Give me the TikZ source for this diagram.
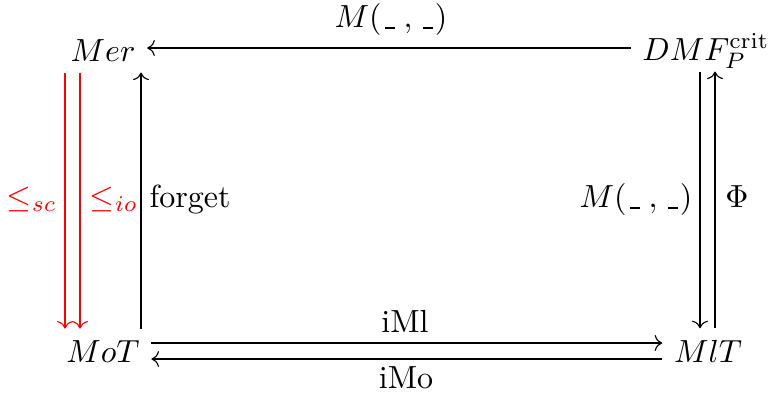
\documentclass[tikz,border=0pt]{standalone}
\usetikzlibrary{arrows.meta}
% a short blank slot, drawn as a rule on the baseline
\newcommand{\slotmark}{\rule[-0.6pt]{3.1pt}{0.6pt}}
\newcommand{\pairmap}{M(\kern1pt\slotmark\;,\,\slotmark\kern0.6pt)}
\begin{document}
\begin{tikzpicture}[x=0.3125pt,y=-0.3125pt,
  obj/.style={inner xsep=3.5pt, inner ysep=3.4pt, anchor=base, text depth=0pt},
  lbl/.style={inner sep=0pt, anchor=base},
  map/.style={-{To}, line width=0.35pt}]
\useasboundingbox (0,0) rectangle (768,396);

% objects
\node[obj] (Mer) at (103,61) {$Mer$};
\node[obj] (DMF) at (706,60) {$DMF_P^{\mathrm{crit}}$};
\node[obj] (MoT) at (103,362) {$MoT$};
\node[obj] (MlT) at (708,362) {$MlT$};

% top row
\draw[map] (DMF.west |- 0,48) -- (Mer.east |- 0,48);
\node[lbl] (mtop) at (391,27) {$\pairmap$};

% left column
\draw[map, red] (65,0 |- Mer.south) -- (65,0 |- MoT.north);
\draw[map, red] (80,0 |- Mer.south) -- (80,0 |- MoT.north);
\draw[map] (141,0 |- MoT.north) -- (141,0 |- Mer.south);
\node[lbl, red] (sc) at (32,207) {$\leq_{sc}$};
\node[lbl, red] (io) at (114,207) {$\leq_{io}$};
\node[lbl] (forget) at (190,207) {forget};

% right column
\draw[map] (700,0 |- DMF.south) -- (700,0 |- MlT.north);
\draw[map] (715,0 |- MlT.north) -- (715,0 |- DMF.south);
\node[lbl] (mright) at (636,207) {$\pairmap$};
\node[lbl] (phi) at (737,207) {$\Phi$};

% bottom row
\draw[map] (MoT.east |- 0,343) -- (MlT.west |- 0,343);
\draw[map] (MlT.west |- 0,359) -- (MoT.east |- 0,359);
\node[lbl] (iml) at (405,332) {iMl};
\node[lbl] (imo) at (406,388) {iMo};
\end{tikzpicture}
\end{document}
